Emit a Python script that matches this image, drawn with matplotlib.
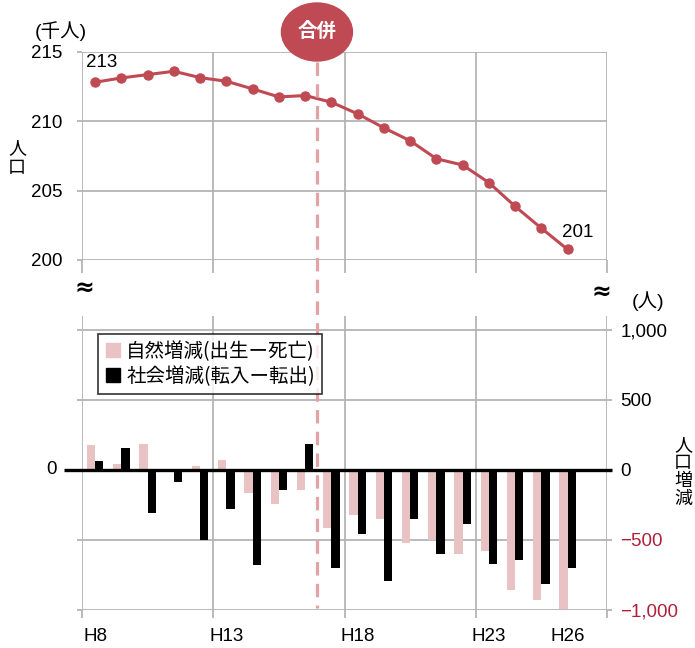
import matplotlib
matplotlib.use("Agg")
import matplotlib.pyplot as plt
from matplotlib.patches import Ellipse
from matplotlib.lines import Line2D
import numpy as np

plt.rcParams['font.family'] = ['Liberation Sans', 'Noto Sans CJK JP', 'DejaVu Sans']

# ---------------- data ----------------
years = ["H8", "H9", "H10", "H11", "H12", "H13", "H14", "H15", "H16", "H17",
         "H18", "H19", "H20", "H21", "H22", "H23", "H24", "H25", "H26", "H27"]
population = [212.82, 213.13, 213.37, 213.61, 213.15, 212.89, 212.34, 211.76, 211.86, 211.38,
              210.54, 209.53, 208.60, 207.30, 206.85, 205.58, 203.87, 202.29, 200.76]
natural = [178, 43, 188, -5, 31, 74, -162, -240, -140, -411,
           -320, -353, -524, -498, -602, -578, -858, -927, -996]
social = [64, 154, -309, -83, -499, -276, -682, -140, 188, -701,
          -455, -792, -353, -602, -386, -668, -645, -815, -700]
tick_label_years = ["H8", "H13", "H18", "H23", "H26"]
pop_ticks = [200, 205, 210, 215]
chg_ticks = [-1000, -500, 0, 500, 1000]
chg_labels = ["\u22121,000", "\u2212500", "0", "500", "1,000"]
legend_labels = ["自然増減(出生ー死亡)", "社会増減(転入ー転出)"]
merger_label = "合併"
merger_pos = 8.45

# ---------------- style ----------------
W, H = 695, 648
RED = "#bf4a53"
PINK = "#e9c3c3"
GRID = "#b4b4b4"
NEG = "#b0203a"
FS = 13.5
MIX = ['Liberation Sans', 'Noto Sans CJK JP']

fig = plt.figure(figsize=(W / 100, H / 100), dpi=100)

def fx(px):
    return px / W

def fy(py):
    return 1 - py / H

n = len(years)
xs = np.arange(n)
bounds = np.arange(-0.5, n, 5)

# top axes
ax1 = fig.add_axes([fx(82), fy(260), fx(607) - fx(82), fy(52) - fy(260)])
ax1.set_xlim(-0.5, n - 0.5)
ax1.set_ylim(200, 215)
for s in ax1.spines.values():
    s.set_visible(False)
ax1.set_xticks(bounds)
ax1.set_xticklabels([])
ax1.set_yticks(pop_ticks)
ax1.set_yticklabels([str(v) for v in pop_ticks], fontsize=FS)
ax1.tick_params(axis='x', length=9, width=1.3, color=GRID, direction='out')
ax1.tick_params(axis='y', length=3.5, width=1.3, color=GRID, pad=10.5)
ax1.grid(True, color=GRID, lw=1.3)
ax1.set_axisbelow(True)
ax1.plot(xs[:len(population)], population, color=RED, lw=2.2, marker='o', ms=6.5,
         clip_on=False, zorder=3)
ax1.annotate(f"{round(population[0])}", (0, population[0]), xytext=(5, 14.5),
             textcoords='offset points', ha='center', va='center', fontsize=FS)
ax1.annotate(f"{round(population[-1])}", (len(population) - 1, population[-1]),
             xytext=(7.5, 12), textcoords='offset points', ha='center', va='center', fontsize=FS)

# bottom axes
ax2 = fig.add_axes([fx(82), fy(610), fx(607) - fx(82), fy(316) - fy(610)])
ax2.set_xlim(-0.5, n - 0.5)
ax2.set_ylim(-1000, 1100)
for s in ax2.spines.values():
    s.set_visible(False)
ax2.set_xticks(bounds)
ax2.set_xticklabels([])
label_idx = [years.index(y) for y in tick_label_years]
ax2.set_xticks(label_idx, minor=True)
ax2.set_xticklabels(tick_label_years, minor=True, fontsize=FS)
ax2.tick_params(axis='x', which='major', length=6, width=1.3, color=GRID)
ax2.tick_params(axis='x', which='minor', length=0, pad=13)
ax2.set_yticks(chg_ticks)
ax2.tick_params(axis='y', length=3.5, width=1.3, color=GRID, left=True, right=True,
                labelleft=False, labelright=True, pad=6)
ax2.set_yticklabels(chg_labels, fontsize=FS)
ax2.grid(True, which='major', color=GRID, lw=1.3)
ax2.set_axisbelow(True)
for tick, v in zip(ax2.yaxis.get_major_ticks(), chg_ticks):
    tick.label2.set_fontsize(FS)
    if v < 0:
        tick.label2.set_color(NEG)
# left-side zero label only
ax2.annotate("0", (0, 0), xycoords=ax2.get_yaxis_transform(), xytext=(-18, 0),
             textcoords='offset points', ha='right', va='center', fontsize=FS)

bw = 0.31
ax2.bar(xs[:len(natural)] - bw / 2, natural, width=bw, color=PINK, zorder=2)
ax2.bar(xs[:len(social)] + bw / 2, social, width=bw, color="black", zorder=2)
ax2.plot([-0.035, 1.01], [0, 0], transform=ax2.get_yaxis_transform(), color='black',
         lw=2.4, clip_on=False, zorder=4, solid_capstyle='butt')

leg_handles = [Line2D([], [], ls='none', marker='s', ms=10.5, color=PINK),
               Line2D([], [], ls='none', marker='s', ms=10.5, color='black')]
leg = fig.legend(leg_handles, legend_labels, loc='upper left',
                 bbox_to_anchor=(fx(98), fy(334)), frameon=True, fancybox=False,
                 edgecolor='black', prop={'family': ['Noto Sans CJK JP'], 'size': 14},
                 handlelength=0.8, handletextpad=0.3, borderpad=0.35, labelspacing=0.2,
                 borderaxespad=0)
leg.get_frame().set_linewidth(1.2)

# merger marker
mx_fig = fx(82) + (merger_pos + 0.5) / n * (fx(607) - fx(82))
fig.add_artist(Line2D([mx_fig, mx_fig], [fy(62), fy(608)], transform=fig.transFigure,
                      color="#e3a3a5", lw=2.3, linestyle=(0, (4.2, 2.6)), zorder=5))
fig.add_artist(Ellipse((mx_fig, fy(32)), fx(71), 58 / H, transform=fig.transFigure,
                       color=RED, zorder=6))
fig.text(mx_fig, fy(31), merger_label, color='white', fontsize=14, fontweight='bold',
         family=['Noto Sans CJK JP'], ha='center', va='center', zorder=7)

# axis unit labels
fig.text(fx(61), fy(31), "(千人)", family=MIX, fontsize=14, ha='center', va='center')
fig.text(fx(17), fy(158), "人\n口", family=['Noto Sans CJK JP'], fontsize=13,
         ha='center', va='center', linespacing=1.15)
fig.text(fx(648), fy(301), "(人)", family=MIX, fontsize=14, ha='center', va='center')
fig.text(fx(683), fy(472), "人\n口\n増\n減", family=['Noto Sans CJK JP'], fontsize=13,
         ha='center', va='center', linespacing=1.0)

# break marks
fig.text(fx(84), fy(288), "≈", fontsize=17, fontweight='bold', family=['DejaVu Sans'],
         ha='center', va='center')
fig.text(fx(601), fy(292), "≈", fontsize=17, fontweight='bold', family=['DejaVu Sans'],
         ha='center', va='center')

fig.savefig("out.png", dpi=100)
